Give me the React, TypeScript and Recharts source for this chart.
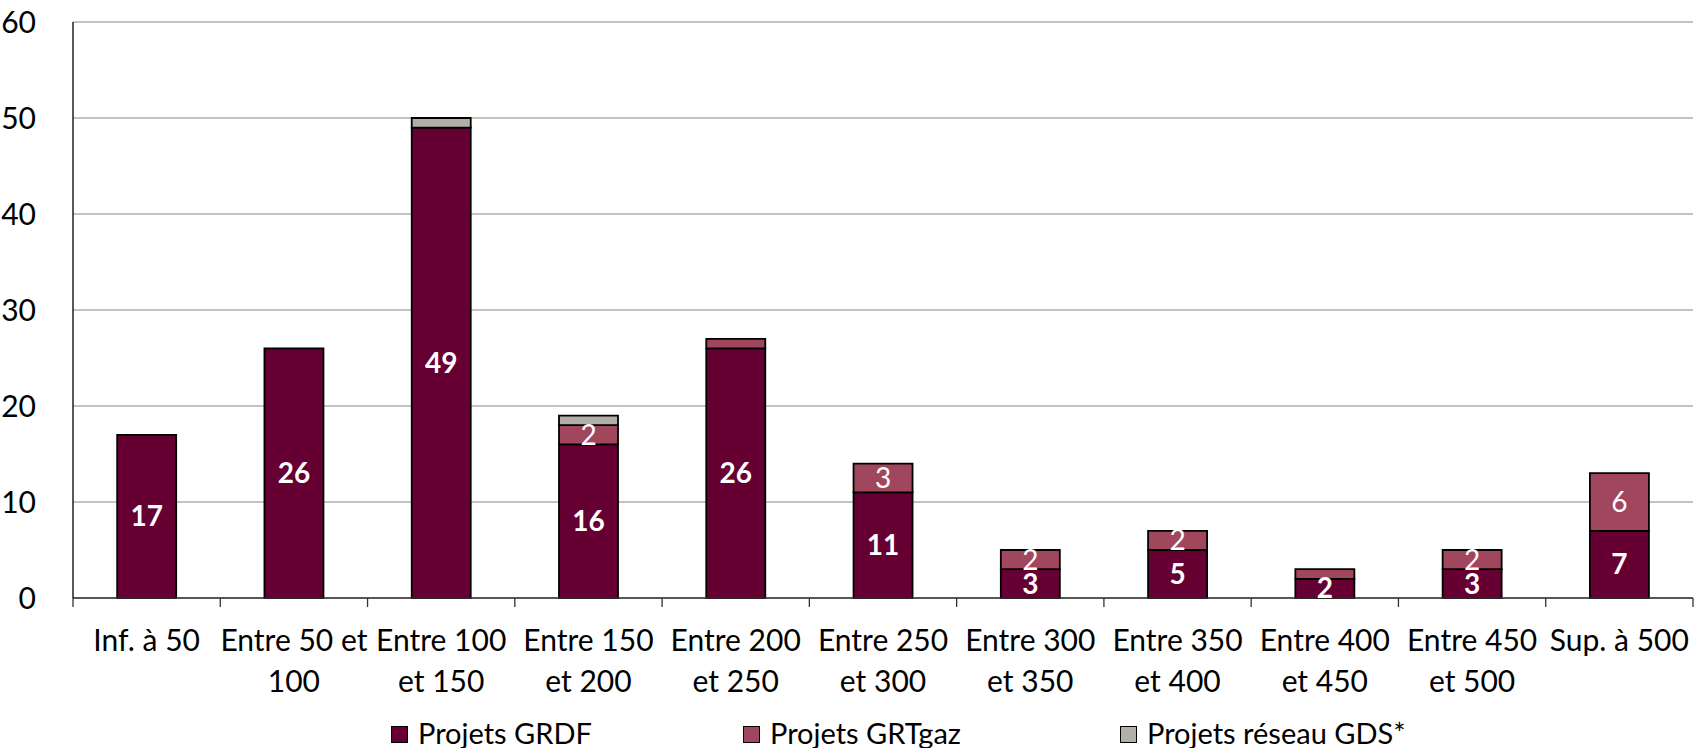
import React from 'react';
import { BarChart, Bar, XAxis, YAxis, CartesianGrid, LabelList, Legend } from 'recharts';

const categoryLines: string[][] = [
  ['Inf. à 50'],
  ['Entre 50 et', '100'],
  ['Entre 100', 'et 150'],
  ['Entre 150', 'et 200'],
  ['Entre 200', 'et 250'],
  ['Entre 250', 'et 300'],
  ['Entre 300', 'et 350'],
  ['Entre 350', 'et 400'],
  ['Entre 400', 'et 450'],
  ['Entre 450', 'et 500'],
  ['Sup. à 500'],
];
const grdf = [17, 26, 49, 16, 26, 11, 3, 5, 2, 3, 7];
const grtgaz = [0, 0, 0, 2, 1, 3, 2, 2, 1, 2, 6];
const gds = [0, 0, 1, 1, 0, 0, 0, 0, 0, 0, 0];
const yTicks = [0, 10, 20, 30, 40, 50, 60];
const seriesNames = ['Projets GRDF', 'Projets GRTgaz', 'Projets réseau GDS*'];
const seriesColors = ['#660033', '#A0475D', '#B2AFA8'];

const data = categoryLines.map((lines, i) => ({
  name: lines.join(' '),
  grdf: grdf[i],
  grtgaz: grtgaz[i],
  gds: gds[i],
}));

const FONT = 'Lato, "Open Sans", sans-serif';
const CHART_W = 1694;
const CHART_H = 748;
const MARGIN = { top: 22, right: 1, bottom: 0, left: 0 };
const Y_W = 73;
const PLOT_W = CHART_W - MARGIN.left - MARGIN.right - Y_W;
const LEGEND_ITEM_W = [352, 377, 320];

const XTick = (props: any) => {
  const { x, y, payload } = props;
  const idx = categoryLines.findIndex((l) => l.join(' ') === payload.value);
  const lines = idx >= 0 ? categoryLines[idx] : [String(payload.value)];
  const half = typeof payload.offset === 'number' && payload.offset > 0 ? payload.offset : PLOT_W / categoryLines.length / 2;
  const isLast = idx === categoryLines.length - 1;
  return (
    <g>
      <line x1={x - half} x2={x - half} y1={y} y2={y + 9} stroke="#333" strokeWidth={1.3} />
      {isLast && <line x1={x + half} x2={x + half} y1={y} y2={y + 9} stroke="#333" strokeWidth={1.3} />}
      <text x={x} y={y} textAnchor="middle" fontSize={30} fontFamily={FONT} fill="#000">
        {lines.map((l, k) => (
          <tspan key={k} x={x} y={y + 53 + k * 41}>
            {l}
          </tspan>
        ))}
      </text>
    </g>
  );
};

const LegendContent = () => (
  <div
    style={{
      display: 'flex',
      alignItems: 'center',
      fontFamily: FONT,
      fontSize: 29,
      lineHeight: '36px',
      color: '#000',
      whiteSpace: 'nowrap',
    }}
  >
    {seriesNames.map((n, i) => (
      <div key={n} style={{ display: 'flex', alignItems: 'center', width: LEGEND_ITEM_W[i] }}>
        <span
          style={{
            display: 'inline-block',
            width: 15,
            height: 15,
            background: seriesColors[i],
            border: '1.5px solid #000',
            marginRight: 10,
            marginTop: 2,
          }}
        />
        <span>{n}</span>
      </div>
    ))}
  </div>
);

const fmtGrtgaz = (v: any) => (Number(v) >= 2 ? v : '');
const fmtGrdf = (v: any) => (Number(v) > 0 ? v : '');

export default function App() {
  return (
    <div style={{ position: 'fixed', left: 0, top: 0, width: CHART_W, height: CHART_H, background: '#fff', overflow: 'hidden' }}>
      <BarChart width={CHART_W} height={CHART_H} data={data} margin={MARGIN} barCategoryGap="30%">
        <CartesianGrid horizontal vertical={false} stroke="#B3AFAA" strokeWidth={1.5} />
        <XAxis
          dataKey="name"
          height={150}
          interval={0}
          tickLine={false}
          tickSize={0}
          tickMargin={0}
          axisLine={{ stroke: '#333', strokeWidth: 1.3 }}
          tick={<XTick />}
        />
        <YAxis
          width={Y_W}
          domain={[0, 60]}
          ticks={yTicks}
          interval={0}
          tickLine={false}
          tickSize={0}
          tickMargin={37}
          axisLine={{ stroke: '#000', strokeWidth: 1.3 }}
          tick={{ fontSize: 30, fill: '#000', fontFamily: FONT }}
        />
        <YAxis
          yAxisId="r"
          orientation="right"
          width={0}
          domain={[0, 60]}
          tick={false}
          tickLine={false}
          axisLine={{ stroke: '#C8C6C2', strokeWidth: 1.3 }}
        />
        <Legend
          layout="horizontal"
          verticalAlign="middle"
          align="center"
          wrapperStyle={{ top: 715, left: 391, width: 1300 }}
          content={<LegendContent />}
        />
        <Bar dataKey="grdf" stackId="s" fill={seriesColors[0]} stroke="#000" strokeWidth={1.8} isAnimationActive={false}>
          <LabelList dataKey="grdf" position="center" formatter={fmtGrdf} fill="#fff" fontSize={28} fontWeight="bold" fontFamily={FONT} />
        </Bar>
        <Bar dataKey="grtgaz" stackId="s" fill={seriesColors[1]} stroke="#000" strokeWidth={1.8} isAnimationActive={false}>
          <LabelList dataKey="grtgaz" position="center" formatter={fmtGrtgaz} fill="#fff" fontSize={28} fontFamily={FONT} />
        </Bar>
        <Bar dataKey="gds" stackId="s" fill={seriesColors[2]} stroke="#000" strokeWidth={1.8} isAnimationActive={false} />
      </BarChart>
    </div>
  );
}
